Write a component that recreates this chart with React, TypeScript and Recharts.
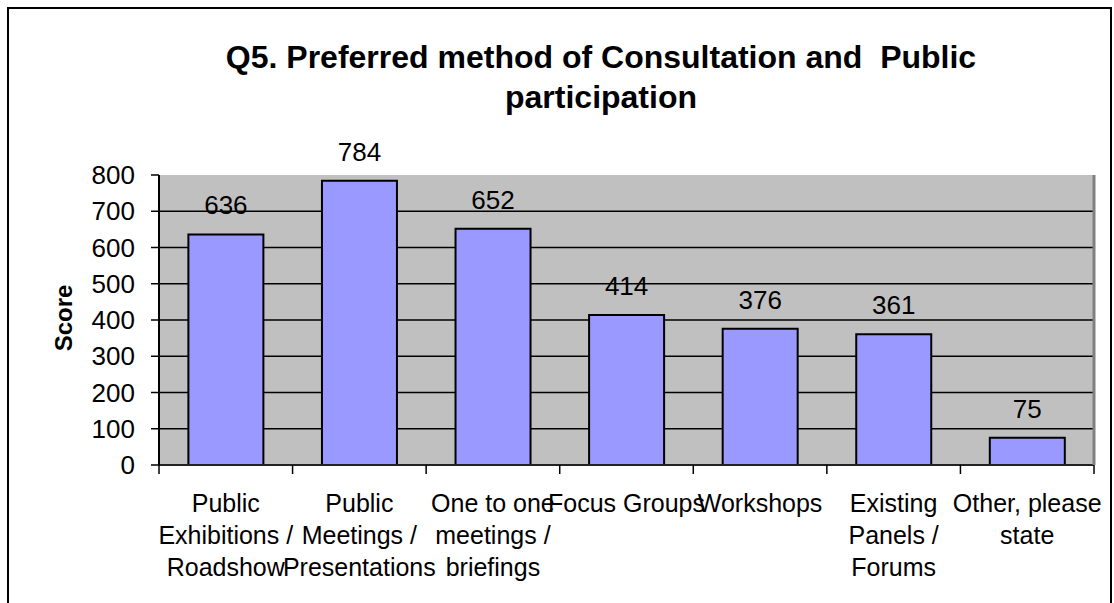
import React from 'react';
import { BarChart, Bar, XAxis, YAxis, CartesianGrid, LabelList } from 'recharts';

const categories = [
  'Public Exhibitions / Roadshow',
  'Public Meetings / Presentations',
  'One to one meetings / briefings',
  'Focus Groups',
  'Workshops',
  'Existing Panels / Forums',
  'Other, please state',
];

// how each category label breaks into lines, as in the original
const categoryLines = [
  ['Public', 'Exhibitions /', 'Roadshow'],
  ['Public', 'Meetings /', 'Presentations'],
  ['One to one', 'meetings /', 'briefings'],
  ['Focus Groups'],
  ['Workshops'],
  ['Existing', 'Panels /', 'Forums'],
  ['Other, please', 'state'],
];

const scores = [636, 784, 652, 414, 376, 361, 75];

const yTicks = [0, 100, 200, 300, 400, 500, 600, 700, 800];

const data = categories.map((name, i) => ({ name, score: scores[i], lines: categoryLines[i] }));

const FONT = '"Liberation Sans", Arial, sans-serif';
const W = 1114;
const H = 603;
const PLOT_LEFT = 159;
const PLOT_RIGHT = 20;

function CategoryTick(props: any) {
  const { x, y, payload, index } = props;
  const band = (W - PLOT_LEFT - PLOT_RIGHT) / categories.length;
  const lines = categoryLines[index] ?? [String(payload.value)];
  const isLast = index === categories.length - 1;
  return (
    <g>
      <line x1={x - band / 2} x2={x - band / 2} y1={y} y2={y + 9} stroke="#000" strokeWidth={1.5} />
      {isLast && (
        <line x1={x + band / 2} x2={x + band / 2} y1={y} y2={y + 9} stroke="#000" strokeWidth={1.5} />
      )}
      <text x={x} y={y} textAnchor="middle" fontFamily={FONT} fontSize={25} fill="#000">
        {lines.map((l: string, i: number) => (
          <tspan key={i} x={x} y={y + 47 + i * 32}>
            {l}
          </tspan>
        ))}
      </text>
    </g>
  );
}

function ScoreLabel(props: any) {
  const { viewBox } = props;
  const cy = viewBox.y + viewBox.height / 2 - 2;
  return (
    <text
      x={72}
      y={cy}
      transform={`rotate(-90, 72, ${cy})`}
      textAnchor="middle"
      fontFamily={FONT}
      fontWeight="bold"
      fontSize={24}
      fill="#000"
    >
      Score
    </text>
  );
}

export default function App() {
  return (
    <div style={{ position: 'relative', width: W, height: H, overflow: 'hidden', background: '#fff' }}>
      <style>{`body{margin:0}`}</style>
      <div
        style={{
          position: 'absolute',
          left: 7,
          top: 7,
          width: 1105,
          height: 620,
          border: '2px solid #000',
          boxSizing: 'border-box',
        }}
      />
      <div
        style={{
          position: 'absolute',
          left: 0,
          top: 37,
          width: 1202,
          textAlign: 'center',
          fontFamily: FONT,
          fontWeight: 'bold',
          fontSize: 32,
          lineHeight: '40px',
          whiteSpace: 'pre',
          color: '#000',
        }}
      >
        {'Q5. Preferred method of Consultation and  Public\nparticipation'}
      </div>
      <div style={{ position: 'absolute', left: 0, top: 0 }}>
        <BarChart
          width={W}
          height={H}
          data={data}
          margin={{ top: 175, right: 0, bottom: 18, left: 0 }}
          barCategoryGap="22%"
        >
          <CartesianGrid
            vertical={false}
            horizontalValues={[100, 200, 300, 400, 500, 600, 700]}
            stroke="#000"
            strokeWidth={1.5}
            fill="#C0C0C0"
            fillOpacity={1}
          />
          <XAxis
            xAxisId="top"
            orientation="top"
            dataKey="name"
            height={0}
            tick={false}
            tickLine={false}
            axisLine={{ stroke: '#808080', strokeWidth: 3 }}
          />
          <XAxis
            dataKey="name"
            height={120}
            interval={0}
            tickSize={0}
            tickMargin={0}
            tick={<CategoryTick />}
            axisLine={{ stroke: '#222', strokeWidth: 2 }}
          />
          <YAxis
            width={PLOT_LEFT}
            domain={[0, 800]}
            ticks={yTicks}
            interval={0}
            tickSize={8}
            tickMargin={16}
            tick={{ fontFamily: FONT, fontSize: 26, fill: '#000' }}
            tickLine={{ stroke: '#000', strokeWidth: 1.5 }}
            axisLine={{ stroke: '#000', strokeWidth: 2 }}
            label={<ScoreLabel />}
          />
          <YAxis
            yAxisId="right"
            orientation="right"
            width={PLOT_RIGHT}
            tick={false}
            tickLine={false}
            axisLine={{ stroke: '#808080', strokeWidth: 3 }}
          />
          <Bar dataKey="score" fill="#9999FF" stroke="#000" strokeWidth={2} isAnimationActive={false}>
            <LabelList
              dataKey="score"
              position="top"
              offset={20}
              fontFamily={FONT}
              fontSize={26}
              fill="#000"
            />
          </Bar>
        </BarChart>
      </div>
    </div>
  );
}
